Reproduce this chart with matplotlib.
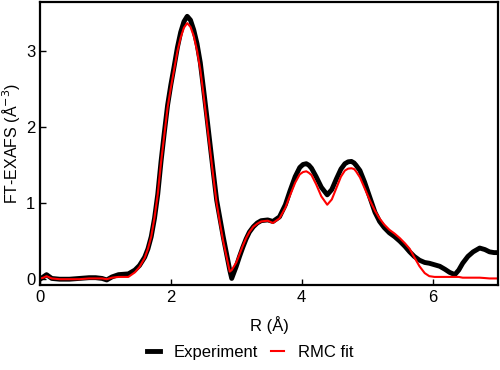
import numpy as np
import matplotlib
matplotlib.use('Agg')
import matplotlib.pyplot as plt

plt.rcParams['font.family'] = ['Liberation Sans', 'DejaVu Sans']

# R grid (Angstrom) shared by both curves
r = [0.0, 0.05, 0.1, 0.18, 0.3, 0.45, 0.6, 0.75, 0.85, 0.95, 1.02, 1.1, 1.2, 1.35,
     1.45, 1.52, 1.6, 1.65, 1.7, 1.75, 1.8, 1.85, 1.9, 1.95, 2.0, 2.05, 2.1, 2.15,
     2.2, 2.25, 2.3, 2.35, 2.4, 2.45, 2.5, 2.55, 2.6, 2.65, 2.7, 2.75, 2.8, 2.85,
     2.9, 2.93, 3.0, 3.05, 3.1, 3.15, 3.2, 3.26, 3.32, 3.38, 3.48, 3.56, 3.66, 3.75,
     3.82, 3.9, 3.97, 4.02, 4.07, 4.11, 4.15, 4.22, 4.3, 4.39, 4.46, 4.53, 4.6, 4.66,
     4.71, 4.76, 4.8, 4.83, 4.89, 4.96, 5.04, 5.12, 5.19, 5.26, 5.34, 5.42, 5.5,
     5.58, 5.65, 5.72, 5.8, 5.88, 5.95, 6.03, 6.11, 6.19, 6.26, 6.34, 6.4, 6.46,
     6.54, 6.62, 6.72, 6.8, 6.87, 6.94, 7.0]

experiment = [0.0, 0.03, 0.06, 0.01, 0.0, 0.0, 0.01, 0.02, 0.02, 0.01, -0.01, 0.03,
              0.06, 0.07, 0.12, 0.18, 0.29, 0.40, 0.56, 0.80, 1.12, 1.55, 1.93, 2.29,
              2.56, 2.80, 3.05, 3.25, 3.39, 3.46, 3.41, 3.28, 3.10, 2.85, 2.50, 2.14,
              1.77, 1.40, 1.04, 0.80, 0.56, 0.34, 0.12, 0.01, 0.17, 0.30, 0.42, 0.53,
              0.62, 0.69, 0.74, 0.77, 0.78, 0.76, 0.82, 0.98, 1.16, 1.35, 1.47, 1.51,
              1.52, 1.50, 1.46, 1.35, 1.21, 1.11, 1.18, 1.32, 1.45, 1.52, 1.545, 1.55,
              1.53, 1.50, 1.43, 1.28, 1.08, 0.88, 0.76, 0.68, 0.61, 0.56, 0.50, 0.43,
              0.36, 0.30, 0.25, 0.22, 0.21, 0.19, 0.17, 0.13, 0.09, 0.06, 0.12, 0.21,
              0.30, 0.36, 0.41, 0.39, 0.36, 0.35, 0.35]

rmc_fit = [0.01, 0.02, 0.04, 0.01, 0.0, 0.0, 0.0, 0.01, 0.01, 0.01, 0.0, 0.02,
           0.03, 0.03, 0.09, 0.16, 0.28, 0.40, 0.56, 0.81, 1.12, 1.54, 1.90, 2.26,
           2.52, 2.76, 3.00, 3.18, 3.31, 3.37, 3.32, 3.20, 3.01, 2.76, 2.42, 2.06,
           1.70, 1.34, 1.00, 0.74, 0.50, 0.30, 0.10, 0.12, 0.22, 0.33, 0.44, 0.54,
           0.62, 0.69, 0.73, 0.76, 0.77, 0.74, 0.80, 0.94, 1.10, 1.27, 1.38, 1.41,
           1.42, 1.40, 1.37, 1.25, 1.09, 0.98, 1.05, 1.20, 1.35, 1.43, 1.455, 1.46,
           1.45, 1.42, 1.34, 1.20, 1.04, 0.90, 0.80, 0.72, 0.65, 0.60, 0.54, 0.47,
           0.40, 0.29, 0.17, 0.08, 0.04, 0.03, 0.03, 0.03, 0.03, 0.03, 0.03, 0.02,
           0.02, 0.02, 0.02, 0.015, 0.01, 0.01, 0.01]

fig = plt.figure(figsize=(5, 3.7), dpi=100)
ax = fig.add_axes([0.08, 0.23, 0.916, 0.765])

ax.plot(r, experiment, color='black', lw=3.5, label='Experiment',
        solid_joinstyle='round')
ax.plot(r, rmc_fit, color='red', lw=1.5, label='RMC fit', solid_joinstyle='round')

ax.set_xlim(0, 7)
ax.set_ylim(-0.075, 3.65)
ax.set_xticks([0, 2, 4, 6])
ax.set_yticks([0, 1, 2, 3])
ax.tick_params(direction='in', length=4, width=1, labelsize=12, top=False, right=False)
for s in ax.spines.values():
    s.set_linewidth(1.6)

ax.set_xlabel('R (Å)', fontsize=12, labelpad=8)
ax.set_ylabel('FT-EXAFS (Å$^{-3}$)', fontsize=11.5)
ax.yaxis.set_label_coords(-0.04, 0.5)

fig.legend(loc='center', bbox_to_anchor=(0.5, 0.048), ncol=2, frameon=False,
           fontsize=12, handlelength=0.8, columnspacing=0.8, handletextpad=0.8)

fig.savefig('out.png', dpi=100)
